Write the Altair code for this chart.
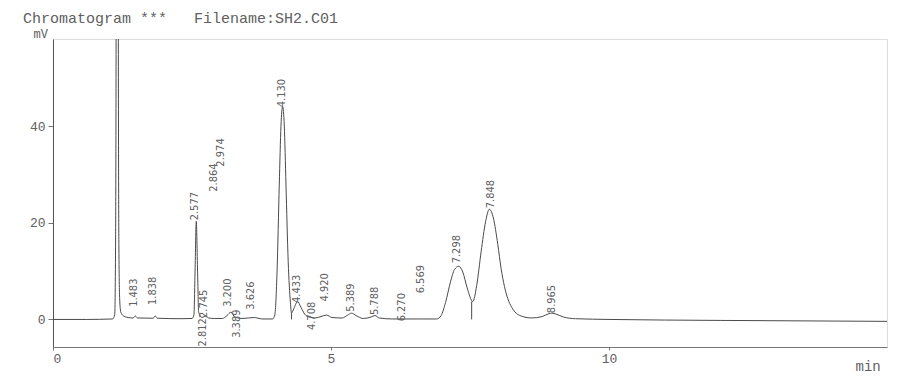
import altair as alt
import pandas as pd

# ---- chromatogram trace (time in min, signal in mV) ----
trace_t = [0.00, 0.60, 1.07, 1.11, 1.125, 1.135, 1.155, 1.175, 1.185, 1.20, 1.22, 1.27,
           1.35, 1.44, 1.483, 1.52, 1.80, 1.838, 1.88, 2.30, 2.50, 2.535, 2.555, 2.577,
           2.60, 2.62, 2.68, 2.745, 2.80, 2.90, 3.05, 3.13, 3.20, 3.27, 3.40, 3.626,
           3.75, 3.95, 3.99, 4.03, 4.07, 4.10, 4.13, 4.16, 4.19, 4.23, 4.27, 4.29,
           4.33, 4.40, 4.46, 4.55, 4.708, 4.82, 4.92, 5.02, 5.20, 5.30, 5.37, 5.45,
           5.58, 5.72, 5.79, 5.87, 6.10, 6.60, 6.90, 6.98, 7.06, 7.15, 7.22, 7.298,
           7.37, 7.45, 7.55, 7.62, 7.70, 7.78, 7.848, 7.92, 8.00, 8.06, 8.12, 8.18,
           8.25, 8.33, 8.45, 8.60, 8.80, 8.92, 8.97, 9.05, 9.18, 9.40, 10.0, 12.0, 15.0]
trace_mv = [0.0, 0.0, 0.1, 1.0, 15, 60, 400, 60, 15, 4, 1.5, 0.7,
            0.4, 0.3, 0.7, 0.3, 0.25, 0.7, 0.25, 0.15, 0.2, 1.0, 10, 20.3,
            10, 1.5, 0.4, 0.7, 0.3, 0.2, 0.2, 0.8, 1.5, 0.5, 0.2, 0.4,
            0.1, 0.1, 1.0, 10, 28, 40, 44, 40, 28, 12, 3.5, 1.3,
            2.2, 3.7, 2.5, 0.8, 0.3, 0.6, 0.9, 0.4, 0.3, 0.9, 1.3, 0.8,
            0.2, 0.5, 0.8, 0.3, 0.1, 0.1, 0.1, 0.8, 3.5, 7.8, 10.3, 11.0,
            9.8, 6.5, 3.7, 7.0, 14, 20.2, 22.8, 21, 15.5, 10.5, 6.8, 4.3,
            2.5, 1.3, 0.6, 0.3, 0.6, 1.2, 1.3, 1.1, 0.5, 0.15, 0.0, -0.2, -0.4]

# ---- peak labels: text, label position (min) and label start (mV) ----
peak_labels = ["1.483", "1.838", "2.577", "2.745", "2.812", "2.864", "2.974", "3.200",
               "3.389", "3.626", "4.130", "4.433", "4.708", "4.920", "5.389", "5.788",
               "6.270", "6.569", "7.298", "7.848", "8.965"]
label_t = [1.45, 1.80, 2.56, 2.72, 2.70, 2.90, 3.02, 3.14,
           3.31, 3.56, 4.12, 4.38, 4.65, 4.89, 5.36, 5.80,
           6.27, 6.61, 7.26, 7.87, 8.97]
label_mv = [2.6, 3.0, 20.5, 0.3, -5.6, 26.4, 31.6, 2.6,
            -3.8, 2.0, 43.9, 3.4, -2.2, 3.7, 1.6, 0.9,
            -0.4, 5.4, 11.6, 23.0, 1.3]

# ---- perpendicular drop lines between fused peaks ----
drop_t = [4.29, 7.53]
drop_top = [1.3, 3.7]

x_ticks = [0, 5, 10]
y_ticks = [0, 20, 40]
x_domain = [0, 15]
y_domain = [-5.7, 58]

trace = pd.DataFrame({"t": trace_t, "mv": trace_mv})
labels = pd.DataFrame({"t": label_t, "mv": label_mv, "label": peak_labels})
drops = pd.DataFrame({"t": drop_t, "mv": drop_top, "base": [0.0] * len(drop_t)})

MONO = "Liberation Mono, Courier New, monospace"
GREY = "#606060"

xs = alt.Scale(domain=x_domain, nice=False, zero=False)
ys = alt.Scale(domain=y_domain, nice=False, zero=False)

x_axis = alt.Axis(
    values=x_ticks, title="min", titleAngle=0, titleAlign="left",
    titleAnchor="start", titleX=802, titleY=23, titleBaseline="alphabetic",
    titleFont=MONO, titleFontSize=14, titleFontWeight="normal", titleColor=GREY,
    labelFont=MONO, labelFontSize=13, labelColor=GREY, labelPadding=2,
    tickSize=3, tickColor="#777", domainColor="#777", grid=False)
y_axis = alt.Axis(
    values=y_ticks, title="mV", titleAngle=0, titleAlign="left",
    titleAnchor="start", titleX=-20, titleY=-2, titleBaseline="alphabetic",
    titleFont=MONO, titleFontSize=12, titleFontWeight="normal", titleColor=GREY,
    labelFont=MONO, labelFontSize=13, labelColor=GREY, labelPadding=3,
    tickSize=5, tickColor="#777", domainColor="#555", grid=False)

X = alt.X("t:Q", scale=xs, axis=x_axis)
Y = alt.Y("mv:Q", scale=ys, axis=y_axis)

line = alt.Chart(trace).mark_line(
    color="#4a4a4a", strokeWidth=1, interpolate="monotone", clip=True
).encode(x=X, y=Y)

rules = alt.Chart(drops).mark_rule(color="#4a4a4a", strokeWidth=1).encode(
    x=X, y=Y, y2="base:Q",
)

text = alt.Chart(labels).mark_text(
    angle=270, align="left", baseline="middle",
    font="Liberation Sans Narrow, DejaVu Sans Condensed, Liberation Sans, sans-serif",
    fontSize=11, color=GREY,
).encode(x=X, y=Y, text="label:N")

chart = alt.layer(line, rules, text).properties(
    width=834, height=308,
    title=alt.TitleParams(
        "Chromatogram ***\u00a0\u00a0\u00a0Filename:SH2.C01",
        anchor="start", frame="group", dx=-30, dy=1, offset=2,
        font=MONO, fontSize=15, fontWeight="normal", color=GREY,
    ),
    autosize=alt.AutoSizeParams(type="none"),
    padding={"left": 45, "top": 31, "right": 1, "bottom": 26},
).configure_view(
    stroke="#8a8a8a", strokeWidth=1
).configure(background="white")

chart.save("out.html", embed_options={"renderer": "svg", "actions": False})
